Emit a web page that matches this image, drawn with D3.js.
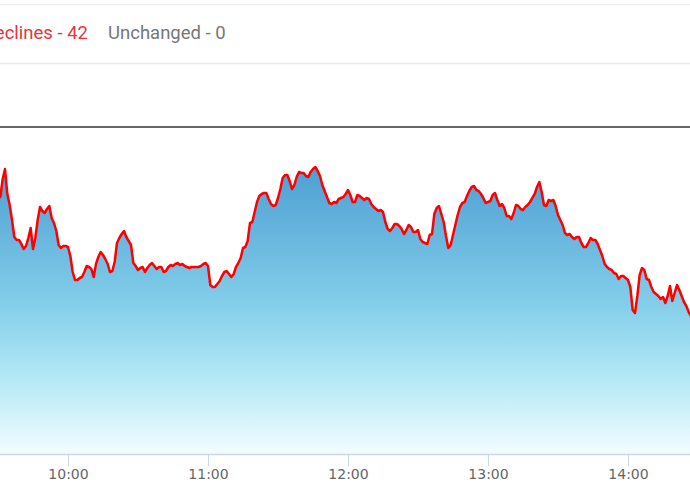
<!DOCTYPE html>
<html>
  <head>
    <meta http-equiv="Content-Type" content="text/html;charset=utf-8"/>
    <title>Intraday</title>
    <script src="https://d3js.org/d3.v7.min.js"></script>
  </head>
  <body style="margin:0;background:#fff">
    <style>
    .hdr { font-family: Roboto, "Noto Sans", sans-serif; font-size: 18.5px; }
    .x-axis text { font-family: "DejaVu Sans", Verdana, sans-serif; font-size: 14px; fill: #666; }
    </style>
    <script type="text/javascript">
        // minute prices starting 09:30
        const startTime = "09:30"
        const prices = [
          1243.2, 1243.0, 1244.8, 1245.8, 1243.3, 1242.2, 1240.7, 1239.0, 1238.7, 1238.7,
          1238.3, 1237.8, 1238.1, 1238.9, 1239.9, 1237.8, 1238.9, 1240.7, 1242.0, 1241.6,
          1241.4, 1241.8, 1242.1, 1240.9, 1240.4, 1239.6, 1238.2, 1237.9, 1238.1, 1238.1,
          1238.0, 1237.1, 1235.5, 1234.7, 1234.7, 1234.9, 1235.0, 1235.5, 1236.1, 1236.0,
          1235.8, 1235.0, 1236.3, 1237.0, 1237.5, 1237.2, 1236.8, 1236.3, 1235.5, 1235.6,
          1236.5, 1238.4, 1238.9, 1239.3, 1239.6, 1239.0, 1238.6, 1238.2, 1236.4, 1236.1,
          1235.7, 1235.9, 1236.0, 1235.5, 1235.9, 1236.2, 1236.4, 1236.1, 1235.8, 1236.0,
          1236.0, 1235.5, 1235.6, 1236.0, 1236.2, 1236.1, 1236.3, 1236.4, 1236.2, 1236.3,
          1236.1, 1236.0, 1235.9, 1236.0, 1236.0, 1236.0, 1236.0, 1236.1, 1236.3, 1236.4,
          1236.1, 1234.2, 1234.0, 1234.0, 1234.3, 1234.6, 1235.1, 1235.5, 1235.6, 1235.3,
          1235.0, 1235.3, 1236.0, 1236.4, 1236.9, 1237.9, 1238.0, 1238.6, 1240.4, 1240.5,
          1241.5, 1242.5, 1243.1, 1243.3, 1243.4, 1243.4, 1242.8, 1242.3, 1242.1, 1242.2,
          1242.9, 1243.8, 1244.9, 1245.2, 1245.2, 1244.6, 1243.8, 1244.2, 1245.0, 1245.5,
          1245.4, 1245.4, 1245.1, 1245.0, 1245.5, 1245.8, 1246.0, 1245.6, 1245.1, 1244.2,
          1243.6, 1243.0, 1242.4, 1242.3, 1242.5, 1242.4, 1242.8, 1242.9, 1243.0, 1243.3,
          1243.7, 1243.2, 1242.5, 1242.5, 1243.2, 1243.1, 1242.9, 1242.7, 1242.9, 1242.8,
          1242.3, 1242.0, 1241.8, 1241.6, 1241.7, 1241.5, 1240.5, 1239.8, 1239.6, 1239.9,
          1240.3, 1240.3, 1240.1, 1239.8, 1239.3, 1239.7, 1240.2, 1240.0, 1239.5, 1239.5,
          1239.7, 1238.8, 1238.5, 1238.4, 1238.3, 1239.2, 1239.3, 1241.3, 1241.9, 1242.1,
          1241.3, 1240.5, 1239.1, 1237.9, 1238.2, 1239.2, 1240.2, 1241.2, 1242.0, 1242.4,
          1242.5, 1243.1, 1243.6, 1244.0, 1244.1, 1243.7, 1243.6, 1243.3, 1242.9, 1242.4,
          1242.5, 1242.6, 1243.2, 1243.4, 1242.7, 1242.1, 1242.3, 1241.9, 1241.1, 1241.1,
          1240.8, 1241.4, 1242.2, 1242.1, 1241.8, 1241.7, 1242.0, 1242.2, 1242.5, 1242.9,
          1243.3, 1244.0, 1244.5, 1243.5, 1242.2, 1242.1, 1242.7, 1242.6, 1242.7, 1242.1,
          1241.2, 1240.7, 1240.2, 1239.4, 1239.2, 1239.3, 1239.0, 1238.8, 1239.0, 1239.0,
          1238.4, 1238.0, 1238.0, 1238.4, 1238.9, 1238.7, 1238.7, 1238.3, 1237.7, 1237.1,
          1236.3, 1236.0, 1235.8, 1235.7, 1235.4, 1235.3, 1234.8, 1235.1, 1235.1, 1234.9,
          1234.7, 1234.0, 1231.7, 1231.4, 1233.1, 1235.2, 1235.9, 1235.7, 1234.8, 1234.7,
          1234.0, 1233.5, 1233.3, 1233.1, 1232.8, 1233.0, 1232.4, 1233.1, 1234.1, 1232.6,
          1233.4, 1234.2, 1233.7, 1233.1, 1232.5, 1232.1, 1231.5, 1231.1
        ]
        const prevClose = 1250.0
        const tickLabels = ["10:00", "11:00", "12:00", "13:00", "14:00"]
        const declines = 42
        const unchanged = 0

        const width = 690,
              height = 500

        const parse = d3.timeParse("%H:%M")
        const t0 = parse(startTime)
        const data = prices.map((p, i) => ({ t: d3.timeMinute.offset(t0, i), v: p }))

        const svg = d3.select("body").append("svg")
            .attr("width", width)
            .attr("height", height)
            .style("display", "block")

        // header strip (the left part of it lies off the cropped view)
        svg.append("line").attr("x1", 0).attr("x2", width).attr("y1", 4.5).attr("y2", 4.5)
            .attr("stroke", "#eeeeee").attr("stroke-width", 1.5)
        svg.append("line").attr("x1", 0).attr("x2", width).attr("y1", 63.5).attr("y2", 63.5)
            .attr("stroke", "#eaeaea").attr("stroke-width", 1.5)

        svg.append("text").attr("class", "hdr")
            .attr("x", 88).attr("y", 39)
            .attr("text-anchor", "end")
            .style("fill", "#e3353f")
            .text("Declines - " + declines)
        svg.append("text").attr("class", "hdr")
            .attr("x", 108).attr("y", 39)
            .style("fill", "#777")
            .text("Unchanged - " + unchanged)

        const x = d3.scaleTime()
            .domain([parse("09:30"), parse("14:30")])
            .range([-2, 698])

        const y = d3.scaleLinear()
            .domain([1217.3, prevClose])
            .range([454, 127])

        const defs = svg.append("defs")
        const grad = defs.append("linearGradient")
            .attr("id", "fillGrad")
            .attr("gradientUnits", "userSpaceOnUse")
            .attr("x1", 0).attr("x2", 0)
            .attr("y1", y(d3.max(prices))).attr("y2", 454)
        grad.append("stop").attr("offset", 0).attr("stop-color", "#4e9fd3")
        grad.append("stop").attr("offset", 0.45).attr("stop-color", "#7fcbe8")
        grad.append("stop").attr("offset", 0.75).attr("stop-color", "#b6eaf6")
        grad.append("stop").attr("offset", 1).attr("stop-color", "#f3fcff")

        const area = d3.area()
            .x(d => x(d.t))
            .y0(y.range()[0])
            .y1(d => y(d.v))

        const line = d3.line()
            .x(d => x(d.t))
            .y(d => y(d.v))

        svg.append("path")
            .datum(data)
            .attr("d", area)
            .attr("fill", "url(#fillGrad)")

        // previous close
        svg.append("line")
            .attr("x1", 0).attr("x2", width)
            .attr("y1", y(prevClose)).attr("y2", y(prevClose))
            .attr("stroke", "#333").attr("stroke-width", 1.5)

        svg.append("path")
            .datum(data)
            .attr("d", line)
            .attr("fill", "none")
            .attr("stroke", "#ff0000")
            .attr("stroke-width", 2.5)
            .attr("stroke-linejoin", "round")

        const xAxis = d3.axisBottom(x)
            .tickValues(tickLabels.map(parse))
            .tickFormat(d3.timeFormat("%H:%M"))
            .tickSize(12)
            .tickSizeOuter(0)
            .tickPadding(3)

        const gx = svg.append("g")
            .attr("class", "x-axis")
            .attr("transform", "translate(0,454)")
            .call(xAxis)
        gx.select(".domain").attr("stroke", "#ccd6eb").attr("stroke-width", 1.5)
        gx.selectAll(".tick line").attr("stroke", "#ccd6eb").attr("stroke-width", 1)
    </script>
  </body>
</html>
